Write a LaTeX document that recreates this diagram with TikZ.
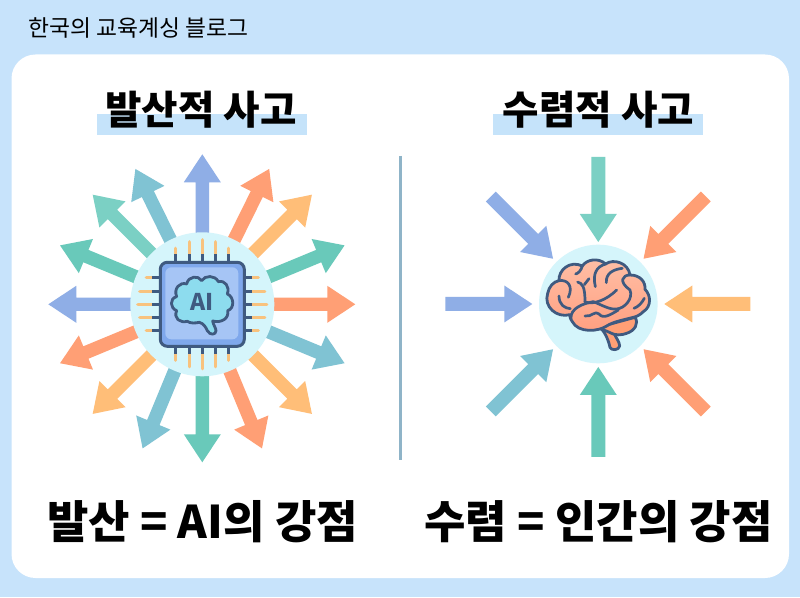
\documentclass[tikz,border=0pt]{standalone}
\usepackage{fontspec}
\setmainfont{Noto Sans CJK KR}
\newfontfamily\krblack{Noto Sans CJK KR Black}
\definecolor{bgblue}{HTML}{C7E3FB}
\definecolor{hl}{HTML}{C5E3FA}
\definecolor{ablue}{HTML}{8FAEE6}
\definecolor{aorange}{HTML}{FF9F75}
\definecolor{alight}{HTML}{FFBE78}
\definecolor{ateal}{HTML}{69C9BA}
\definecolor{aleaf}{HTML}{7BD0C4}
\definecolor{asteel}{HTML}{80C3D3}
\definecolor{halo}{HTML}{D5F5FB}
\definecolor{ink}{HTML}{3F5A80}
\definecolor{divider}{HTML}{8FB4C8}
\definecolor{pincol}{HTML}{F8C27E}
\definecolor{chipdark}{HTML}{7FA8EC}
\definecolor{chiplight}{HTML}{A6C5F5}
\definecolor{aibrain}{HTML}{8DDCEE}
\definecolor{brainlight}{HTML}{FFBFA6}
\definecolor{braindark}{HTML}{FF9F80}
\tikzset{
  inkline/.style={draw=ink,line width=2.7pt,line cap=round,line join=round},
  pinout/.style={draw=pincol,line width=3.3pt,line cap=round},
  pindark/.style={draw=ink,line width=3.3pt},
  titletext/.style={font=\krblack\fontsize{39.6}{40}\selectfont,text=black,inner sep=0pt},
  bigtext/.style={font=\krblack\fontsize{45}{45}\selectfont,text=black,inner sep=0pt},
}
\newcommand{\radarrow}[5]{%
  \fill[#5,shift={#1},rotate=#2] (#3,-6.7) -- ({#4-28},-6.7) -- ({#4-28},-18.5) -- (#4,0) -- ({#4-28},18.5) -- ({#4-28},6.7) -- (#3,6.7) -- cycle;}
\newcommand{\inarrow}[5]{%
  \fill[#5,shift={#1},rotate=#2] (#3,-7) -- ({#4+28},-7) -- ({#4+28},-18.5) -- (#4,0) -- ({#4+28},18.5) -- ({#4+28},7) -- (#3,7) -- cycle;}
\begin{document}
\begin{tikzpicture}[x=1pt,y=1pt]
\useasboundingbox (0,0) rectangle (800,597);
\fill[bgblue] (0,0) rectangle (800,597);
\fill[white,rounded corners=24pt] (11.5,19) rectangle (789,542.5);
\begin{scope}[yscale=-1,yshift=-597pt]
\node[anchor=west,inner sep=0pt,font=\fontsize{22.8}{22.8}\selectfont,text=black] (blog) at (28,27.5) {한국의 교육계싱 블로그};
\fill[hl] (97,114) rectangle (307,135);
\fill[hl] (492.5,114) rectangle (703,135);
\node[titletext] (t1) at (201,110) {발산적 사고};
\node[titletext] (t2) at (598.5,110) {수렴적 사고};
\coordinate (L) at (202.3,304.3);
\coordinate (R) at (598.3,304);
\foreach \a/\r/\c in {-90/150/ablue,-63.7/151/aorange,-45/155/alight,-22.5/154/ateal,0/153/aorange,22.5/154/asteel,45/155/alight,67.5/156/aorange,90/158/ateal,112.5/156/asteel,135/155/alight,157.5/154/aorange,180/154/ablue,-157.5/154/ateal,-135/155/aleaf,-116.3/151/asteel}{
  \radarrow{(L)}{\a}{66}{\r}{\c}
}
\fill[halo] (L) circle (72);
\foreach \a/\ra/\rb/\c in {-90/147/62/aleaf,-45/152/64/aorange,0/152/66/alight,45/152/64/aorange,90/153/63/ateal,135/152/64/asteel,180/153/66/ablue,-135/152/64/ablue}{
  \inarrow{(R)}{\a}{\ra}{\rb}{\c}
}
\fill[halo] (R) circle (59.3);
\draw[divider,line width=3pt] (400,156) -- (400,460);
% chip
\begin{scope}[shift={(L)}]
\foreach \o/\e in {-26.5/56,-13/62.5,0/64.5,13/62.5,26.5/56}{
  \draw[pinout] (\o,-50) -- (\o,-\e);
  \draw[pinout] (\o,50) -- (\o,\e);
  \draw[pinout] (-50,\o) -- (-\e,\o);
  \draw[pinout] (50,\o) -- (\e,\o);
  \draw[pindark] (\o,-42) -- (\o,-50);
  \draw[pindark] (\o,42) -- (\o,50);
  \draw[pindark] (-42,\o) -- (-50,\o);
  \draw[pindark] (42,\o) -- (50,\o);
}
\filldraw[fill=chipdark,draw=ink,line width=3pt,rounded corners=7pt] (-42,-42) rectangle (42,42);
\fill[chiplight,rounded corners=6pt] (-37,-37) rectangle (36,35);
\end{scope}
% AI brain
\begin{scope}[shift={(130,240)},xscale=.3333,yscale=.3333]
\filldraw[fill=aibrain,draw=ink,line width=2.8pt,line join=round]
 (215,122) .. controls (225,105) and (255,105) .. (265,125)
 .. controls (285,120) and (300,140) .. (292,162)
 .. controls (312,170) and (315,205) .. (293,212)
 .. controls (298,235) and (275,250) .. (248,243)
 .. controls (250,255) and (258,265) .. (258,272)
 .. controls (258,285) and (240,287) .. (232,272)
 .. controls (228,262) and (220,250) .. (208,247)
 .. controls (195,250) and (180,250) .. (172,244)
 .. controls (150,250) and (130,235) .. (140,212)
 .. controls (120,205) and (118,175) .. (140,170)
 .. controls (130,145) and (150,125) .. (170,132)
 .. controls (175,108) and (205,105) .. (215,122) -- cycle;
\node[inner sep=0pt,font=\bfseries\fontsize{23}{23}\selectfont,text=ink] (ai) at (216,187) {AI};
\end{scope}
% Human brain
\begin{scope}[shift={(535,240)},xscale=.3333,yscale=.3333]
\filldraw[fill=aorange,draw=ink,line width=2.8pt,line join=round]
 (195,262) .. controls (205,272) and (218,290) .. (225,322)
 .. controls (228,332) and (252,332) .. (254,318)
 .. controls (254,305) and (240,290) .. (238,280)
 -- (232,262) -- cycle;
\filldraw[fill=aorange,draw=ink,line width=2.8pt,line join=round]
 (190,262) -- (300,232) .. controls (312,250) and (300,272) .. (275,280)
 .. controls (260,286) and (240,287) .. (225,278) .. controls (215,272) and (200,270) .. (190,262) -- cycle;
\filldraw[top color=brainlight,bottom color=braindark,draw=ink,line width=2.8pt,line join=round]
 (72,122) .. controls (70,90) and (105,60) .. (142,78)
 .. controls (155,58) and (190,52) .. (212,72)
 .. controls (235,55) and (280,68) .. (285,105)
 .. controls (315,105) and (332,125) .. (330,148)
 .. controls (348,165) and (350,200) .. (325,215)
 .. controls (315,225) and (305,230) .. (295,232)
 .. controls (265,240) and (235,245) .. (215,258)
 .. controls (190,275) and (130,280) .. (112,245)
 .. controls (105,235) and (104,230) .. (105,224)
 .. controls (65,235) and (25,200) .. (38,160)
 .. controls (42,140) and (55,125) .. (72,122) -- cycle;
\draw[inkline] (72,168) .. controls (72,195) and (90,205) .. (106,206);
\draw[inkline] (72,122) .. controls (100,118) and (115,140) .. (100,172);
\draw[inkline] (122,102) .. controls (130,100) and (138,92) .. (142,78);
\draw[inkline] (128,126) .. controls (142,130) and (150,140) .. (150,185);
\draw[inkline] (148,134) -- (162,116);
\draw[inkline] (181,140) .. controls (172,100) and (185,80) .. (212,72);
\draw[inkline] (214,128) .. controls (212,100) and (235,88) .. (262,85);
\draw[inkline] (150,186) .. controls (175,195) and (215,180) .. (245,150);
\draw[inkline] (285,105) .. controls (262,105) and (250,125) .. (285,150) .. controls (295,175) and (270,205) .. (245,207) .. controls (225,210) and (200,195) .. (175,185) .. controls (145,190) and (105,205) .. (108,236);
\draw[inkline] (150,228) .. controls (170,232) and (180,210) .. (192,222) .. controls (205,238) and (225,225) .. (250,210);
\draw[inkline] (297,205) .. controls (310,200) and (320,190) .. (328,175);
\end{scope}
\node[bigtext] (b1) at (202.5,522) {발산 = AI의 강점};
\node[bigtext] (b2) at (598.5,522) {수렴 = 인간의 강점};
\end{scope}
\end{tikzpicture}
\end{document}
